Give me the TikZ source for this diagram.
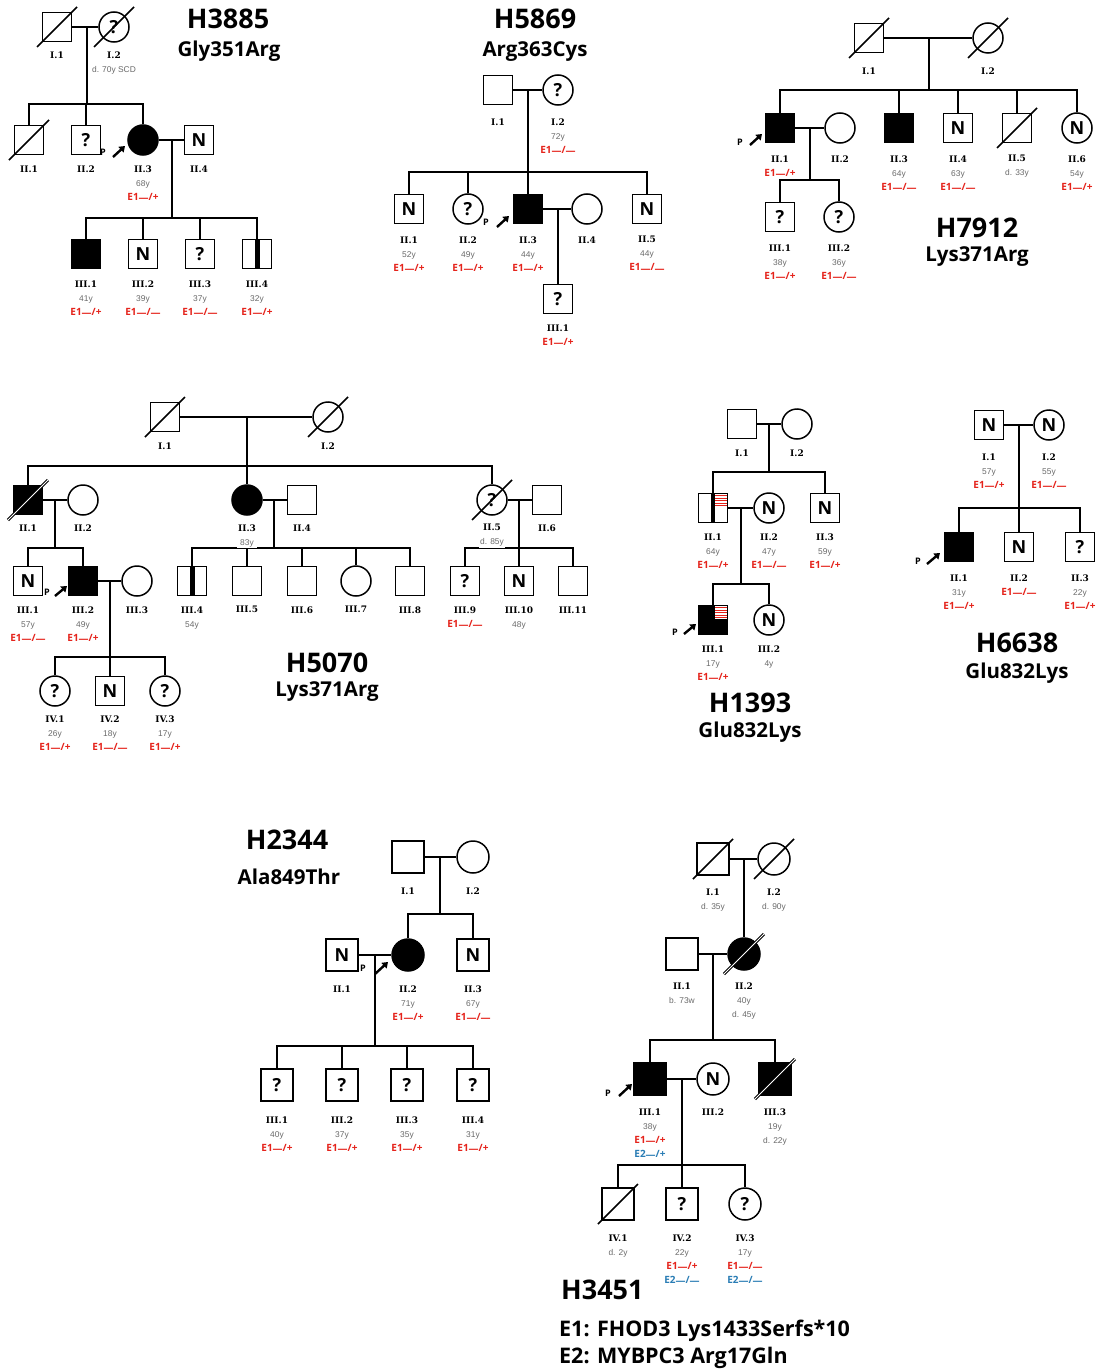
\documentclass[tikz,border=0pt]{standalone}
\usepackage{fontspec}
\setmainfont{Liberation Sans}
\newfontfamily\hdfam{Open Sans}
\newfontfamily\idfam{DejaVu Serif}
\usetikzlibrary{arrows.meta}
\definecolor{gred}{HTML}{E5231B}
\definecolor{gblue}{HTML}{2A7DB5}
\definecolor{agegray}{HTML}{6A6A6A}
% label fonts
\newcommand\idf{\idfam\bfseries\fontsize{9}{14}\selectfont}
\newcommand\agf{\color{agegray}\fontsize{8.4}{14}\selectfont}
\newcommand\genr{\color{gred}\hdfam\bfseries\fontsize{10}{14}\selectfont}
\newcommand\genb{\color{gblue}\hdfam\bfseries\fontsize{10}{14}\selectfont}
\newcommand\dsh{\raisebox{-1.7pt}{—}}
% text block under a symbol: [offset of first line] {symbol} {lines}
\newcommand\pnote[3][29]{\node[lbl] (#2-t) at ([shift={(0,#1-4.8)}]#2.center) {#3};}
% deceased slash
\newcommand\slashit[2][dead]{\draw[#1] ([shift={(-20,20)}]#2.center) -- ([shift={(20,-20)}]#2.center);}
% vertical bar (carrier)
\newcommand\vbar[2][2.5]{\fill ([shift={(-#1,-14)}]#2.center) rectangle ([shift={(#1,14)}]#2.center);}
% red striped upper right quadrant
\newcommand\stripes[1]{%
  \fill[white] ([shift={(2,-13.7)}]#1.center) rectangle ([shift={(13.7,-0.8)}]#1.center);
  \foreach \k in {0,...,4}{\draw[gred, line width=1.3pt] ([shift={(2,-12.3+2.5*\k)}]#1.center) -- ([shift={(13.7,-12.3+2.5*\k)}]#1.center);}}
\tikzset{
  ln/.style={line width=1.5pt},
  msq/.style={draw, line width=1.5pt, fill=white, minimum size=29pt, inner sep=0pt,
    font=\hdfam\bfseries\fontsize{18}{18}\selectfont},
  fci/.style={msq, circle, minimum size=30pt},
  big/.style={minimum size=32pt},
  aff/.style={fill=black},
  dead/.style={line width=1.5pt},
  deadf/.style={line width=1pt, double=white, double distance=1pt},
  lbl/.style={align=center, inner sep=1pt, fill=white, anchor=north, font=\fontsize{8}{14}\selectfont},
  ptag/.style={font=\hdfam\bfseries\fontsize{9}{9}\selectfont, inner sep=0pt},
  parr/.style={line width=2.4pt, -{Triangle[length=5.5pt,width=7.5pt]}},
  ttl/.style={font=\hdfam\bfseries\fontsize{27}{30}\selectfont, inner sep=0pt},
  sub/.style={font=\hdfam\bfseries\fontsize{20.5}{24}\selectfont, inner sep=0pt},
  leg/.style={font=\hdfam\bfseries\fontsize{21.5}{24}\selectfont, inner sep=0pt, anchor=west},
}
\begin{document}
\begin{tikzpicture}[x=1pt,y=-1pt]
\useasboundingbox (0,0) rectangle (1097,1370);
\fill[white] (0,0) rectangle (1097,1370);

% ================= H3885 =================
\node[msq] (aI1) at (57,27) {};
\node[fci] (aI2) at (114,27) {?};
\node[msq] (aII1) at (29,140) {};
\node[msq] (aII2) at (86,140) {?};
\node[fci,aff] (aII3) at (143,140) {};
\node[msq] (aII4) at (199,140) {N};
\node[msq,aff] (aIII1) at (86,254) {};
\node[msq] (aIII2) at (143,254) {N};
\node[msq] (aIII3) at (200,254) {?};
\node[msq] (aIII4) at (257,254) {};
\coordinate (am1) at (87,27); \coordinate (as1) at (87,104);
\coordinate (am2) at (172,140); \coordinate (as2) at (172,218);
\draw[ln] (aI1) -- (aI2); \draw[ln] (am1) -- (as1);
\foreach \kid in {aII1,aII2,aII3} \draw[ln] (\kid.north) |- (as1);
\draw[ln] (aII3) -- (aII4); \draw[ln] (am2) -- (as2);
\foreach \kid in {aIII1,aIII2,aIII3,aIII4} \draw[ln] (\kid.north) |- (as2);
\slashit{aI1} \slashit{aI2} \slashit{aII1}
\vbar{aIII4}
\node[ptag] (aP) at (103,152) {P};
\coordinate (aP1) at (113,157); \coordinate (aP2) at (125,146);
\draw[parr] (aP1) -- (aP2);
\pnote[28]{aI1}{\idf I.1}
\pnote[28]{aI2}{\idf I.2\\\agf d. 70y SCD}
\pnote{aII1}{\idf II.1}
\pnote{aII2}{\idf II.2}
\pnote{aII3}{\idf II.3\\\agf 68y\\\genr E1\dsh/+}
\pnote{aII4}{\idf II.4}
\pnote[30]{aIII1}{\idf III.1\\\agf 41y\\\genr E1\dsh/+}
\pnote[30]{aIII2}{\idf III.2\\\agf 39y\\\genr E1\dsh/\dsh}
\pnote[30]{aIII3}{\idf III.3\\\agf 37y\\\genr E1\dsh/\dsh}
\pnote[30]{aIII4}{\idf III.4\\\agf 32y\\\genr E1\dsh/+}
\node[ttl] (aT) at (228,19) {H3885};
\node[sub] (aS) at (229,51) {Gly351Arg};

% ================= H5869 =================
\node[msq] (bI1) at (498,90) {};
\node[fci] (bI2) at (558,90) {?};
\node[msq] (bII1) at (409,209) {N};
\node[fci] (bII2) at (468,209) {?};
\node[msq,aff] (bII3) at (528,209) {};
\node[fci] (bII4) at (587,209) {};
\node[msq] (bII5) at (647,209) {N};
\node[msq] (bIII1) at (558,299) {?};
\coordinate (bm1) at (528,90); \coordinate (bs1) at (528,172);
\coordinate (bm2) at (558,209);
\draw[ln] (bI1) -- (bI2); \draw[ln] (bm1) -- (bs1);
\foreach \kid in {bII1,bII2,bII3,bII5} \draw[ln] (\kid.north) |- (bs1);
\draw[ln] (bII3) -- (bII4); \draw[ln] (bm2) -- (bIII1.north);
\node[ptag] (bP) at (486,222) {P};
\coordinate (bP1) at (497,227); \coordinate (bP2) at (509,216);
\draw[parr] (bP1) -- (bP2);
\pnote[32]{bI1}{\idf I.1}
\pnote[32]{bI2}{\idf I.2\\\agf 72y\\\genr E1\dsh/\dsh}
\pnote[31]{bII1}{\idf II.1\\\agf 52y\\\genr E1\dsh/+}
\pnote[31]{bII2}{\idf II.2\\\agf 49y\\\genr E1\dsh/+}
\pnote[31]{bII3}{\idf II.3\\\agf 44y\\\genr E1\dsh/+}
\pnote[31]{bII4}{\idf II.4}
\pnote[31]{bII5}{\idf II.5\\\agf 44y\\\genr E1\dsh/\dsh}
\node[lbl] (bIII1-t) at ([shift={(0,24.2)}]bIII1.center) {\idf III.1\\\genr E1\dsh/+};
\node[ttl] (bT) at (535,19) {H5869};
\node[sub] (bS) at (535,52) {Arg363Cys};

% ================= H7912 =================
\node[msq] (cI1) at (869,38) {};
\node[fci] (cI2) at (988,38) {};
\node[msq,aff] (cII1) at (780,128) {};
\node[fci] (cII2) at (840,128) {};
\node[msq,aff] (cII3) at (899,128) {};
\node[msq] (cII4) at (958,128) {N};
\node[msq] (cII5) at (1017,128) {};
\node[fci] (cII6) at (1077,128) {N};
\node[msq] (cIII1) at (780,217) {?};
\node[fci] (cIII2) at (839,217) {?};
\coordinate (cm1) at (929,38); \coordinate (cs1) at (929,90);
\coordinate (cm2) at (810,128); \coordinate (cs2) at (810,180);
\draw[ln] (cI1) -- (cI2); \draw[ln] (cm1) -- (cs1);
\foreach \kid in {cII1,cII3,cII4,cII5,cII6} \draw[ln] (\kid.north) |- (cs1);
\draw[ln] (cII1) -- (cII2); \draw[ln] (cm2) -- (cs2);
\foreach \kid in {cIII1,cIII2} \draw[ln] (\kid.north) |- (cs2);
\slashit{cI1} \slashit{cI2} \slashit{cII5}
\node[ptag] (cP) at (740,142) {P};
\coordinate (cP1) at (750,145); \coordinate (cP2) at (762,134);
\draw[parr] (cP1) -- (cP2);
\pnote[33]{cI1}{\idf I.1}
\pnote[33]{cI2}{\idf I.2}
\pnote[31]{cII1}{\idf II.1\\\genr E1\dsh/+}
\pnote[31]{cII2}{\idf II.2}
\pnote[31]{cII3}{\idf II.3\\\agf 64y\\\genr E1\dsh/\dsh}
\pnote[31]{cII4}{\idf II.4\\\agf 63y\\\genr E1\dsh/\dsh}
\pnote[31]{cII5}{\idf II.5\\\agf d. 33y}
\pnote[31]{cII6}{\idf II.6\\\agf 54y\\\genr E1\dsh/+}
\pnote[31]{cIII1}{\idf III.1\\\agf 38y\\\genr E1\dsh/+}
\pnote[31]{cIII2}{\idf III.2\\\agf 36y\\\genr E1\dsh/\dsh}
\node[ttl] (cT) at (977,228) {H7912};
\node[sub] (cS) at (977,257) {Lys371Arg};

% ================= H5070 =================
\node[msq] (dI1) at (165,417) {};
\node[fci] (dI2) at (328,417) {};
\node[msq,aff] (dII1) at (28,500) {};
\node[fci] (dII2) at (83,500) {};
\node[fci,aff] (dII3) at (247,500) {};
\node[msq] (dII4) at (302,500) {};
\node[fci] (dII5) at (492,500) {?};
\node[msq] (dII6) at (547,500) {};
\node[msq] (dIII1) at (28,581) {N};
\node[msq,aff] (dIII2) at (83,581) {};
\node[fci] (dIII3) at (137,581) {};
\node[msq] (dIII4) at (192,581) {};
\node[msq] (dIII5) at (247,581) {};
\node[msq] (dIII6) at (302,581) {};
\node[fci] (dIII7) at (356,581) {};
\node[msq] (dIII8) at (410,581) {};
\node[msq] (dIII9) at (465,581) {?};
\node[msq] (dIII10) at (519,581) {N};
\node[msq] (dIII11) at (573,581) {};
\node[fci] (dIV1) at (55,691) {?};
\node[msq] (dIV2) at (110,691) {N};
\node[fci] (dIV3) at (165,691) {?};
\coordinate (dm1) at (247,417); \coordinate (ds1) at (247,466);
\coordinate (dm2) at (55,500); \coordinate (ds2) at (55,548);
\coordinate (dm3) at (274,500); \coordinate (ds3) at (274,548);
\coordinate (dm4) at (519,500); \coordinate (ds4) at (519,548);
\coordinate (dm5) at (110,581); \coordinate (ds5) at (110,657);
\draw[ln] (dI1) -- (dI2); \draw[ln] (dm1) -- (ds1);
\foreach \kid in {dII1,dII3,dII5} \draw[ln] (\kid.north) |- (ds1);
\draw[ln] (dII1) -- (dII2); \draw[ln] (dm2) -- (ds2);
\foreach \kid in {dIII1,dIII2} \draw[ln] (\kid.north) |- (ds2);
\draw[ln] (dII3) -- (dII4); \draw[ln] (dm3) -- (ds3);
\foreach \kid in {dIII4,dIII5,dIII6,dIII7,dIII8} \draw[ln] (\kid.north) |- (ds3);
\draw[ln] (dII5) -- (dII6); \draw[ln] (dm4) -- (ds4);
\foreach \kid in {dIII9,dIII10,dIII11} \draw[ln] (\kid.north) |- (ds4);
\draw[ln] (dIII2) -- (dIII3); \draw[ln] (dm5) -- (ds5);
\foreach \kid in {dIV1,dIV2,dIV3} \draw[ln] (\kid.north) |- (ds5);
\slashit{dI1} \slashit{dI2} \slashit[deadf]{dII1} \slashit{dII5}
\vbar{dIII4}
\node[ptag] (dP) at (47,592) {P};
\coordinate (dP1) at (55,596); \coordinate (dP2) at (67,586);
\draw[parr] (dP1) -- (dP2);
\pnote{dI1}{\idf I.1}
\pnote{dI2}{\idf I.2}
\pnote[28]{dII1}{\idf II.1}
\pnote[28]{dII2}{\idf II.2}
\pnote[28]{dII3}{\idf II.3\\\agf 83y}
\pnote[28]{dII4}{\idf II.4}
\pnote[28]{dII5}{\idf II.5\\\agf d. 85y}
\pnote[28]{dII6}{\idf II.6}
\pnote{dIII1}{\idf III.1\\\agf 57y\\\genr E1\dsh/\dsh}
\pnote{dIII2}{\idf III.2\\\agf 49y\\\genr E1\dsh/+}
\pnote{dIII3}{\idf III.3}
\pnote{dIII4}{\idf III.4\\\agf 54y}
\pnote{dIII5}{\idf III.5}
\pnote{dIII6}{\idf III.6}
\pnote{dIII7}{\idf III.7}
\pnote{dIII8}{\idf III.8}
\pnote{dIII9}{\idf III.9\\\genr E1\dsh/\dsh}
\pnote{dIII10}{\idf III.10\\\agf 48y}
\pnote{dIII11}{\idf III.11}
\pnote[28]{dIV1}{\idf IV.1\\\agf 26y\\\genr E1\dsh/+}
\pnote[28]{dIV2}{\idf IV.2\\\agf 18y\\\genr E1\dsh/\dsh}
\pnote[28]{dIV3}{\idf IV.3\\\agf 17y\\\genr E1\dsh/+}
\node[ttl] (dT) at (327,663) {H5070};
\node[sub] (dS) at (327,692) {Lys371Arg};

% ================= H1393 =================
\node[msq] (eI1) at (742,424) {};
\node[fci] (eI2) at (797,424) {};
\node[msq] (eII1) at (713,508) {};
\node[fci] (eII2) at (769,508) {N};
\node[msq] (eII3) at (825,508) {N};
\node[msq,aff] (eIII1) at (713,620) {};
\node[fci] (eIII2) at (769,620) {N};
\coordinate (em1) at (769,424); \coordinate (es1) at (769,472);
\coordinate (em2) at (741,508); \coordinate (es2) at (741,584);
\draw[ln] (eI1) -- (eI2); \draw[ln] (em1) -- (es1);
\foreach \kid in {eII1,eII3} \draw[ln] (\kid.north) |- (es1);
\draw[ln] (eII1) -- (eII2); \draw[ln] (em2) -- (es2);
\foreach \kid in {eIII1,eIII2} \draw[ln] (\kid.north) |- (es2);
\vbar[2]{eII1}
\stripes{eII1}
\stripes{eIII1}
\node[ptag] (eP) at (675,632) {P};
\coordinate (eP1) at (684,634); \coordinate (eP2) at (696,624);
\draw[parr] (eP1) -- (eP2);
\pnote{eI1}{\idf I.1}
\pnote{eI2}{\idf I.2}
\pnote{eII1}{\idf II.1\\\agf 64y\\\genr E1\dsh/+}
\pnote{eII2}{\idf II.2\\\agf 47y\\\genr E1\dsh/\dsh}
\pnote{eII3}{\idf II.3\\\agf 59y\\\genr E1\dsh/+}
\pnote{eIII1}{\idf III.1\\\agf 17y\\\genr E1\dsh/+}
\pnote{eIII2}{\idf III.2\\\agf 4y}
\node[ttl] (eT) at (750,703) {H1393};
\node[sub] (eS) at (750,732) {Glu832Lys};

% ================= H6638 =================
\node[msq] (fI1) at (989,425) {N};
\node[fci] (fI2) at (1049,425) {N};
\node[msq,aff] (fII1) at (959,547) {};
\node[msq] (fII2) at (1019,547) {N};
\node[msq] (fII3) at (1080,547) {?};
\coordinate (fm1) at (1019,425); \coordinate (fs1) at (1019,508);
\draw[ln] (fI1) -- (fI2); \draw[ln] (fm1) -- (fs1);
\foreach \kid in {fII1,fII2,fII3} \draw[ln] (\kid.north) |- (fs1);
\node[ptag] (fP) at (918,561) {P};
\coordinate (fP1) at (927,564); \coordinate (fP2) at (940,553);
\draw[parr] (fP1) -- (fP2);
\pnote[32]{fI1}{\idf I.1\\\agf 57y\\\genr E1\dsh/+}
\pnote[32]{fI2}{\idf I.2\\\agf 55y\\\genr E1\dsh/\dsh}
\pnote[31]{fII1}{\idf II.1\\\agf 31y\\\genr E1\dsh/+}
\pnote[31]{fII2}{\idf II.2\\\genr E1\dsh/\dsh}
\pnote[31]{fII3}{\idf II.3\\\agf 22y\\\genr E1\dsh/+}
\node[ttl] (fT) at (1017,643) {H6638};
\node[sub] (fS) at (1017,673) {Glu832Lys};

% ================= H2344 =================
\node[msq,big] (gI1) at (408,857) {};
\node[fci,big] (gI2) at (473,857) {};
\node[msq,big] (gII1) at (342,955) {N};
\node[fci,big,aff] (gII2) at (408,955) {};
\node[msq,big] (gII3) at (473,955) {N};
\node[msq,big] (gIII1) at (277,1085) {?};
\node[msq,big] (gIII2) at (342,1085) {?};
\node[msq,big] (gIII3) at (407,1085) {?};
\node[msq,big] (gIII4) at (473,1085) {?};
\coordinate (gm1) at (440,857); \coordinate (gs1) at (440,914);
\coordinate (gm2) at (375,955); \coordinate (gs2) at (375,1046);
\draw[ln] (gI1) -- (gI2); \draw[ln] (gm1) -- (gs1);
\foreach \kid in {gII2,gII3} \draw[ln] (\kid.north) |- (gs1);
\draw[ln] (gII1) -- (gII2); \draw[ln] (gm2) -- (gs2);
\foreach \kid in {gIII1,gIII2,gIII3,gIII4} \draw[ln] (\kid.north) |- (gs2);
\node[ptag] (gP) at (363,968) {P};
\coordinate (gP1) at (375,974); \coordinate (gP2) at (388,962);
\draw[parr] (gP1) -- (gP2);
\pnote[34]{gI1}{\idf I.1}
\pnote[34]{gI2}{\idf I.2}
\pnote[34]{gII1}{\idf II.1}
\pnote[34]{gII2}{\idf II.2\\\agf 71y\\\genr E1\dsh/+}
\pnote[34]{gII3}{\idf II.3\\\agf 67y\\\genr E1\dsh/\dsh}
\pnote[35]{gIII1}{\idf III.1\\\agf 40y\\\genr E1\dsh/+}
\pnote[35]{gIII2}{\idf III.2\\\agf 37y\\\genr E1\dsh/+}
\pnote[35]{gIII3}{\idf III.3\\\agf 35y\\\genr E1\dsh/+}
\pnote[35]{gIII4}{\idf III.4\\\agf 31y\\\genr E1\dsh/+}
\node[ttl] (gT) at (287,840) {H2344};
\node[sub] (gS) at (289,877) {Ala849Thr};

% ================= H3451 =================
\node[msq,big] (hI1) at (713,859) {};
\node[fci,big] (hI2) at (774,859) {};
\node[msq,big] (hII1) at (682,954) {};
\node[fci,big,aff] (hII2) at (744,954) {};
\node[msq,big,aff] (hIII1) at (650,1079) {};
\node[fci,big] (hIII2) at (713,1079) {N};
\node[msq,big,aff] (hIII3) at (775,1079) {};
\node[msq,big] (hIV1) at (618,1204) {};
\node[msq,big] (hIV2) at (682,1204) {?};
\node[fci,big] (hIV3) at (745,1204) {?};
\coordinate (hm1) at (744,859);
\coordinate (hm2) at (713,954); \coordinate (hs2) at (713,1040);
\coordinate (hm3) at (682,1079); \coordinate (hs3) at (682,1165);
\draw[ln] (hI1) -- (hI2); \draw[ln] (hm1) -- (hII2.north);
\draw[ln] (hII1) -- (hII2); \draw[ln] (hm2) -- (hs2);
\foreach \kid in {hIII1,hIII3} \draw[ln] (\kid.north) |- (hs2);
\draw[ln] (hIII1) -- (hIII2); \draw[ln] (hm3) -- (hs3);
\foreach \kid in {hIV1,hIV2,hIV3} \draw[ln] (\kid.north) |- (hs3);
\slashit{hI1} \slashit{hI2} \slashit[deadf]{hII2} \slashit[deadf]{hIII3} \slashit{hIV1}
\node[ptag] (hP) at (608,1093) {P};
\coordinate (hP1) at (619,1096); \coordinate (hP2) at (632,1084);
\draw[parr] (hP1) -- (hP2);
\pnote[33]{hI1}{\idf I.1\\\agf d. 35y}
\pnote[33]{hI2}{\idf I.2\\\agf d. 90y}
\pnote[32]{hII1}{\idf II.1\\\agf b. 73w}
\pnote[32]{hII2}{\idf II.2\\\agf 40y\\\agf d. 45y}
\pnote[33]{hIII1}{\idf III.1\\\agf 38y\\\genr E1\dsh/+\\\genb E2\dsh/+}
\pnote[33]{hIII2}{\idf III.2}
\pnote[33]{hIII3}{\idf III.3\\\agf 19y\\\agf d. 22y}
\pnote[34]{hIV1}{\idf IV.1\\\agf d. 2y}
\pnote[34]{hIV2}{\idf IV.2\\\agf 22y\\\genr E1\dsh/+\\\genb E2\dsh/\dsh}
\pnote[34]{hIV3}{\idf IV.3\\\agf 17y\\\genr E1\dsh/\dsh\\\genb E2\dsh/\dsh}
\node[ttl, anchor=west] (hT) at (561,1290) {H3451};
\node[leg] (hL1) at (559,1331) {E1: FHOD3 Lys1433Serfs*10};
\node[leg] (hL2) at (559,1358) {E2: MYBPC3 Arg17Gln};
\end{tikzpicture}
\end{document}
